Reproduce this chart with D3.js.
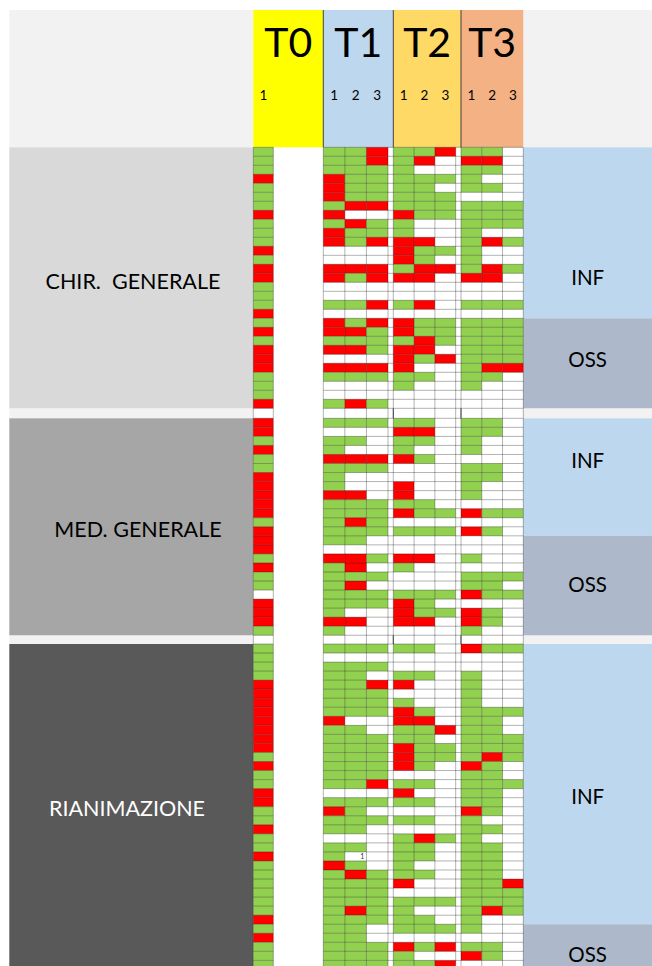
<!DOCTYPE html>
<html>
<head>
<meta charset="utf-8">
<script src="https://cdn.jsdelivr.net/npm/d3@7"></script>
<style>
  body { margin: 0; background: #fff; }
  svg { display: block; font-family: Lato, "Open Sans", sans-serif; }
</style>
</head>
<body>
<script>
// tempi e sotto-colonne
const times = ["T0", "T1", "T2", "T3"];
const subCols = { T0: ["1"], T1: ["1", "2", "3"], T2: ["1", "2", "3"], T3: ["1", "2", "3"] };
const wards = ["CHIR.  GENERALE", "MED. GENERALE", "RIANIMAZIONE"];
const staff = ["INF", "OSS"];
const infRows = [19, 13, 31]; // prime righe = INF, le altre = OSS

// G = verde, R = rosso, . = vuoto, 1 = vuoto con "1"
const chirT0 = "GGGRGGGRGGGRGRRGGGRGRGRRRGGGR".split("");
const chirT1 = ["GGR", "GGR", "GGG", "RGG", "RGG", "RGG", "GRR", "R..", "GRG", "RGG", "RGR", "...", "...", "RRR", "RGR",
  "...", "...", "GGR", "...", "RGR", "RRG", "GGG", "RRG", "...", "RRR", "GGG", "...", "...", "GRG"];
const chirT2 = ["GGR", "GR.", "G..", "GGG", "GG.", "GGG", "GGG", "RGG", "G..", "G..", "RR.", "RGG", "RG.", "GRR", "RR.",
  "...", "...", "GR.", "...", "RGG", "RGG", "GRG", "RR.", "RGR", "R..", "GG.", "G..", "...", "..."];
const chirT3 = ["GG.", "RR.", "GG.", "G..", "GG.", "...", "GGG", "GGG", "GGG", "G..", "GRG", "G..", "G..", "GRG", "RR.",
  "...", "...", "GGG", "...", "GGG", "GGG", "GGG", "GGG", "GGG", "GRR", "GG.", "G..", "...", "..."];

const medT0 = "RRGRGGRRRRRGRRRGRGG.RRRG".split("");
const medT1 = ["GGG", "...", "GG.", "G..", "RRR", "GGG", "G..", "G..", "RR.", "GGG", "GGG", "GRG",
  "GGG", "GG.", "...", "RRG", "GR.", "GGG", "GR.", "GGG", "GGG", "G..", "RR.", "G.."];
const medT2 = ["GG.", "RR.", "GG.", "G..", "RG.", "...", "...", "R..", "R..", "GG.", "RGG", "...",
  "GGG", "...", "...", "RR.", "G..", "...", "...", "GGG", "RG.", "RGG", "RR.", "..."];
const medT3 = ["GG.", "GG.", "G..", "G..", "...", "GG.", "GG.", "G..", "G..", "...", "RGG", "...",
  "RG.", "...", "...", "G..", "...", "GGG", "GG.", "RGG", "...", "RG.", "RG.", "G.."];

const rianT0 = "GGGGRRRRRRRRGRGGRRGGRGGRGGGGGGRGRGGG".split("");
const rianT1 = ["GGG", "...", "GGG", "GG.", "GGR", "GGG", "GGG", "GGG", "R..", "GG.", "GGG", "GGG",
  "GGG", "GGG", "GGG", "GGR", "...", "GGG", "RG.", "GGG", "GG.", "...", "GG.", "G1.",
  "RG.", "GRG", "GGG", "GGG", "GGG", "GRG", "GGG", "GG.", "GG.", "GGG", "GGG", "GGG"];
const rianT2 = ["GG.", "...", "...", "GG.", "R..", "...", "G..", "RG.", "RR.", "GGR", "GG.", "RGG",
  "RGG", "RG.", "...", "GG.", "R..", "GG.", "...", "GG.", "...", "GRG", "GG.", "GG.",
  "G..", "GG.", "R..", "...", "GGG", "G..", "GG.", "GGG", "...", "RGR", "G..", "GGR"];
const rianT3 = ["RGG", "...", "...", "G..", "G..", "G..", "G..", "GGG", "GG.", "GG.", "GGG", "GGG",
  "GRG", "RG.", "GG.", "GGG", "GG.", "GG.", "RG.", "G..", "GG.", "G..", "GG.", "GG.",
  "GG.", "GG.", "GGR", "GGG", "GGG", "GRG", "G..", "G..", "...", "GG.", "RG.", "..."];

const wardData = [
  { T0: chirT0, T1: chirT1, T2: chirT2, T3: chirT3 },
  { T0: medT0, T1: medT1, T2: medT2, T3: medT3 },
  { T0: rianT0, T1: rianT1, T2: rianT2, T3: rianT3 },
];

// layout
const width = 652;
const height = 966;
const leftX = 9.3;
const headTop = 10;
const gridTop = 147.3;
const wardTop = [147.3, 418.3, 644];
const rowH = [9, 9.04, 9.04];
const headSpan = { T0: [253.3, 323.3], T1: [323.3, 393.3], T2: [393.3, 461], T3: [461, 523.3] };
const cellSpan = { T0: [253.3, 273.3], T1: [323.3, 388], T2: [393.3, 455.7], T3: [461, 523.3] };
const rightX = 523.3;
const headColor = { T0: "#ffff00", T1: "#bdd7ee", T2: "#ffd966", T3: "#f4b183" };
const wardColor = ["#d9d9d9", "#a6a6a6", "#595959"];
const wardText = ["#000", "#000", "#fff"];
const wardLabelX = [133, 138, 127];
const wardLabelY = [281, 529, 808];
const staffColor = { INF: "#bdd7ee", OSS: "#adb9ca" };
const staffLabelY = [[278, 360], [461, 585], [797, 955]];
const cellColor = { G: "#92d050", R: "#ff0000" };

const svg = d3.select("body").append("svg")
  .attr("width", width)
  .attr("height", height);

const xSub = {};
times.forEach(t => {
  xSub[t] = d3.scaleBand().domain(subCols[t]).range(cellSpan[t]);
});

const yRow = wardData.map((d, w) => {
  const n = d.T0.length;
  return d3.scaleBand().domain(d3.range(n)).range([wardTop[w], wardTop[w] + n * rowH[w]]);
});

// header
svg.append("rect")
  .attr("x", leftX).attr("y", headTop)
  .attr("width", headSpan.T0[0] - leftX).attr("height", gridTop - headTop)
  .attr("fill", "#f2f2f2");
svg.append("rect")
  .attr("x", rightX).attr("y", headTop)
  .attr("width", width - rightX).attr("height", gridTop - headTop)
  .attr("fill", "#f2f2f2");

const head = svg.selectAll(".head")
  .data(times)
  .enter().append("g")
    .attr("class", "head");

head.append("rect")
  .attr("x", t => headSpan[t][0])
  .attr("y", headTop)
  .attr("width", t => headSpan[t][1] - headSpan[t][0])
  .attr("height", gridTop - headTop)
  .attr("fill", t => headColor[t]);

head.append("text")
  .attr("x", t => (headSpan[t][0] + headSpan[t][1]) / 2)
  .attr("y", 57)
  .attr("text-anchor", "middle")
  .attr("font-size", 41)
  .text(t => t);

head.selectAll(".sub")
  .data(t => subCols[t].map(s => ({ t, s })))
  .enter().append("text")
    .attr("class", "sub")
    .attr("x", d => xSub[d.t](d.s) + xSub[d.t].bandwidth() / 2)
    .attr("y", 100)
    .attr("text-anchor", "middle")
    .attr("font-size", 13.5)
    .text(d => d.s);

svg.selectAll(".headline")
  .data(["T1", "T2", "T3"])
  .enter().append("line")
    .attr("x1", t => headSpan[t][0]).attr("x2", t => headSpan[t][0])
    .attr("y1", headTop).attr("y2", gridTop)
    .attr("stroke", "#404040")
    .attr("stroke-width", 1);

// separatori fra reparti
const seps = [
  [yRow[0].range()[1], wardTop[1]],
  [yRow[1].range()[1], wardTop[2]],
];
seps.forEach(([a, b]) => {
  svg.append("rect").attr("x", leftX).attr("y", a)
    .attr("width", headSpan.T0[0] - leftX).attr("height", b - a).attr("fill", "#f2f2f2");
  svg.append("rect").attr("x", rightX).attr("y", a)
    .attr("width", width - rightX).attr("height", b - a).attr("fill", "#f2f2f2");
});

// etichette reparti
wards.forEach((name, w) => {
  const [a, b] = yRow[w].range();
  svg.append("rect")
    .attr("x", leftX).attr("y", a)
    .attr("width", headSpan.T0[0] - leftX).attr("height", b - a)
    .attr("fill", wardColor[w]);
  svg.append("text")
    .attr("x", wardLabelX[w])
    .attr("y", wardLabelY[w] + 7.5)
    .attr("text-anchor", "middle")
    .attr("font-size", 21.5)
    .attr("fill", wardText[w])
    .style("white-space", "pre")
    .text(name);

  const n = yRow[w].domain().length;
  const parts = [[0, infRows[w]], [infRows[w], n]];
  staff.forEach((s, k) => {
    const y0 = yRow[w](parts[k][0]);
    const y1 = parts[k][1] >= n ? b : yRow[w](parts[k][1]);
    svg.append("rect")
      .attr("x", rightX).attr("y", y0)
      .attr("width", width - rightX).attr("height", y1 - y0)
      .attr("fill", staffColor[s]);
    svg.append("text")
      .attr("x", (rightX + width) / 2)
      .attr("y", staffLabelY[w][k] + 7.3)
      .attr("text-anchor", "middle")
      .attr("font-size", 20.5)
      .text(s);
  });
});

// celle
const cells = [];
wardData.forEach((d, w) => {
  times.forEach(t => {
    d[t].forEach((row, i) => {
      subCols[t].forEach((s, j) => {
        cells.push({ w, t, s, i, v: row[j] });
      });
    });
  });
});

const grid = svg.append("g");

grid.selectAll(".cell")
  .data(cells.filter(c => cellColor[c.v]))
  .enter().append("rect")
    .attr("class", "cell")
    .attr("x", c => xSub[c.t](c.s))
    .attr("y", c => yRow[c.w](c.i))
    .attr("width", c => xSub[c.t].bandwidth())
    .attr("height", c => yRow[c.w].bandwidth())
    .attr("fill", c => cellColor[c.v]);

grid.selectAll(".num")
  .data(cells.filter(c => c.v === "1"))
  .enter().append("text")
    .attr("class", "num")
    .attr("x", c => xSub[c.t](c.s) + xSub[c.t].bandwidth() - 2)
    .attr("y", c => yRow[c.w](c.i) + yRow[c.w].bandwidth() - 1.5)
    .attr("text-anchor", "end")
    .attr("font-size", 7)
    .attr("fill", "#333")
    .text("1");

// griglia
const lineColor = "rgba(0,0,0,0.3)";
const hSpans = [[cellSpan.T0[0], cellSpan.T0[1]], [cellSpan.T1[0], cellSpan.T3[1]]];
yRow.forEach(y => {
  const edges = y.domain().map(i => y(i)).concat([y.range()[1]]);
  hSpans.forEach(([x1, x2]) => {
    grid.selectAll(null)
      .data(edges)
      .enter().append("line")
        .attr("x1", x1).attr("x2", x2)
        .attr("y1", e => e).attr("y2", e => e)
        .attr("stroke", lineColor)
        .attr("stroke-width", 1);
  });
});

const vEdges = [];
times.forEach(t => {
  subCols[t].forEach(s => vEdges.push(xSub[t](s)));
  vEdges.push(cellSpan[t][1]);
});
grid.selectAll(".vline")
  .data(vEdges)
  .enter().append("line")
    .attr("class", "vline")
    .attr("x1", x => x).attr("x2", x => x)
    .attr("y1", gridTop).attr("y2", height)
    .attr("stroke", lineColor)
    .attr("stroke-width", 1);

seps.forEach(([a, b]) => {
  grid.selectAll(null)
    .data(["T2", "T3"])
    .enter().append("line")
      .attr("x1", t => headSpan[t][0]).attr("x2", t => headSpan[t][0])
      .attr("y1", a).attr("y2", b)
      .attr("stroke", "#404040");
});
</script>
</body>
</html>
